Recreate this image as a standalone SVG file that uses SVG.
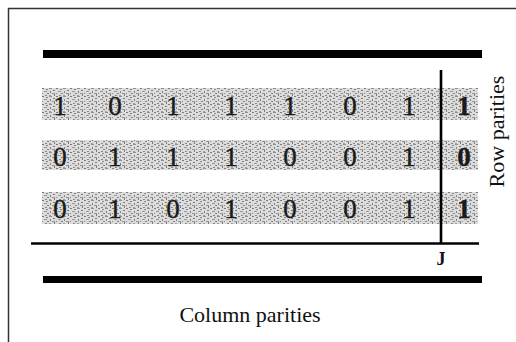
<svg xmlns="http://www.w3.org/2000/svg" width="516" height="342" viewBox="0 0 516 342">
<defs>
<pattern id="noise" width="14" height="8" patternUnits="userSpaceOnUse">
<rect width="14" height="8" fill="#dcdcdc"/>
<rect x="0" y="0" width="2" height="1" fill="#7a7a7a"/>
<rect x="4" y="1" width="2" height="1" fill="#888"/>
<rect x="7" y="0" width="3" height="1" fill="#909090"/>
<rect x="11" y="2" width="2" height="1" fill="#7c7c7c"/>
<rect x="2" y="3" width="3" height="1" fill="#989898"/>
<rect x="8" y="3" width="1" height="2" fill="#808080"/>
<rect x="0" y="5" width="1" height="1" fill="#888"/>
<rect x="5" y="5" width="2" height="1" fill="#7f7f7f"/>
<rect x="10" y="5" width="3" height="1" fill="#949494"/>
<rect x="3" y="7" width="2" height="1" fill="#888"/>
<rect x="12" y="6" width="1" height="2" fill="#7a7a7a"/>
<rect x="7" y="7" width="2" height="1" fill="#a0a0a0"/>
</pattern>
<style>
.d{font-family:"Liberation Serif","Times New Roman",serif;font-size:27px;fill:#1a1a1a;stroke:#1a1a1a;stroke-width:0.4;text-anchor:middle}
.p{font-weight:bold}
.lbl{font-family:"Liberation Serif","Times New Roman",serif;font-size:22px;fill:#111}
.band{fill:url(#noise)}
</style>
</defs>
<rect width="516" height="342" fill="#fff"/>
<path d="M8.5,342 V8.5 H516" fill="none" stroke="#333" stroke-width="1.5"/>
<rect x="43" y="50" width="439" height="8" fill="#000"/>
<rect x="43" y="276" width="439" height="7" fill="#000"/>
<g id="row1">
<rect class="band" x="42" y="88" width="436" height="32"/>
<text class="d" y="115"><tspan x="60">1</tspan><tspan x="115">0</tspan><tspan x="173">1</tspan><tspan x="231">1</tspan><tspan x="290">1</tspan><tspan x="350">0</tspan><tspan x="409">1</tspan></text>
<text class="d p" x="464" y="115">1</text>
</g>
<g id="row2">
<rect class="band" x="42" y="140" width="436" height="30"/>
<text class="d" y="166"><tspan x="60">0</tspan><tspan x="115">1</tspan><tspan x="173">1</tspan><tspan x="231">1</tspan><tspan x="290">0</tspan><tspan x="350">0</tspan><tspan x="409">1</tspan></text>
<text class="d p" x="464" y="166">0</text>
</g>
<g id="row3">
<rect class="band" x="42" y="192" width="436" height="32"/>
<text class="d" y="218"><tspan x="60">0</tspan><tspan x="115">1</tspan><tspan x="173">0</tspan><tspan x="231">1</tspan><tspan x="290">0</tspan><tspan x="350">0</tspan><tspan x="409">1</tspan></text>
<text class="d p" x="464" y="218">1</text>
</g>
<g id="connectors">
<line x1="31" y1="243.5" x2="479" y2="243.5" stroke="#000" stroke-width="2.5"/>
<line x1="441" y1="70" x2="441" y2="243" stroke="#000" stroke-width="2.6"/>
</g>
<text class="lbl" x="441" y="265" text-anchor="middle" style="font-size:18px;font-weight:bold">J</text>
<text class="lbl" x="250" y="322" text-anchor="middle">Column parities</text>
<text class="lbl" transform="translate(504,131.5) rotate(-90)" text-anchor="middle">Row parities</text>
</svg>
